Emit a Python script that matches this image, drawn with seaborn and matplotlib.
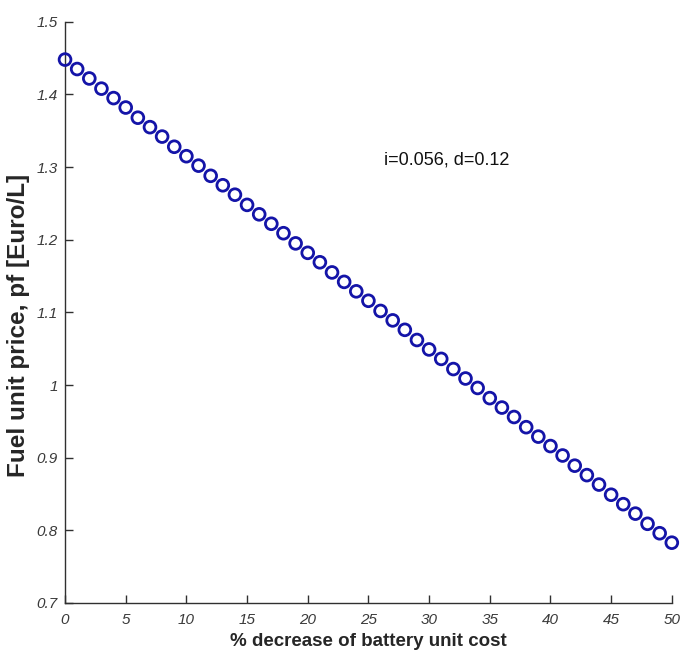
import numpy as np
import pandas as pd
import seaborn as sns
import matplotlib.pyplot as plt

# % decrease of battery unit cost
decrease = list(range(0, 51))
# fuel unit price [Euro/L]
price = [1.448, 1.435, 1.422, 1.408, 1.395, 1.382, 1.368, 1.355, 1.342, 1.328,
         1.315, 1.302, 1.288, 1.275, 1.262, 1.248, 1.235, 1.222, 1.209, 1.195,
         1.182, 1.169, 1.155, 1.142, 1.129, 1.116, 1.102, 1.089, 1.076, 1.062,
         1.049, 1.036, 1.022, 1.009, 0.996, 0.982, 0.969, 0.956, 0.942, 0.929,
         0.916, 0.903, 0.889, 0.876, 0.863, 0.849, 0.836, 0.823, 0.809, 0.796,
         0.783]
xticks = list(range(0, 55, 5))
yticks = [0.7, 0.8, 0.9, 1.0, 1.1, 1.2, 1.3, 1.4, 1.5]
ytick_labels = ["0.7", "0.8", "0.9", "1", "1.1", "1.2", "1.3", "1.4", "1.5"]

df = pd.DataFrame({"decrease": decrease, "price": price})

sns.set_style("white")
plt.rcParams["font.family"] = ["Liberation Sans", "DejaVu Sans"]

fig = plt.figure(figsize=(6.81, 6.53), dpi=100)
ax = fig.add_axes([0.0955, 0.0766, 0.891, 0.890])

sns.scatterplot(data=df, x="decrease", y="price", ax=ax, marker="o",
                s=72, facecolor="none", edgecolor="#1414a8", linewidth=2.0,
                clip_on=False, zorder=3)

ax.set_xlim(0, 50)
ax.set_ylim(0.7, 1.5)
ax.set_xticks(xticks)
ax.set_xticklabels([str(t) for t in xticks], fontstyle="italic", color="#3a3a3a", fontsize=11)
ax.set_yticks(yticks)
ax.set_yticklabels(ytick_labels, fontstyle="italic", color="#3a3a3a", fontsize=11)
ax.tick_params(bottom=True, left=True, direction="in", length=6, width=1,
               color="#303030", pad=5)
ax.tick_params(axis="x", pad=7)

for s in ["top", "right"]:
    ax.spines[s].set_visible(False)
for s in ["left", "bottom"]:
    ax.spines[s].set_color("#303030")
    ax.spines[s].set_linewidth(1.0)

ax.set_xlabel("% decrease of battery unit cost", fontweight="bold", fontsize=13.5, va="center")
ax.xaxis.set_label_coords(0.5, -0.067)
ax.set_ylabel("Fuel unit price, pf [Euro/L]", fontweight="bold", fontsize=17.5, va="center")
ax.yaxis.set_label_coords(-0.077, 0.477)

ax.text(26.3, 1.31, "i=0.056, d=0.12", fontsize=13, va="center", ha="left", color="#111111")

fig.savefig("out.png", dpi=100)
